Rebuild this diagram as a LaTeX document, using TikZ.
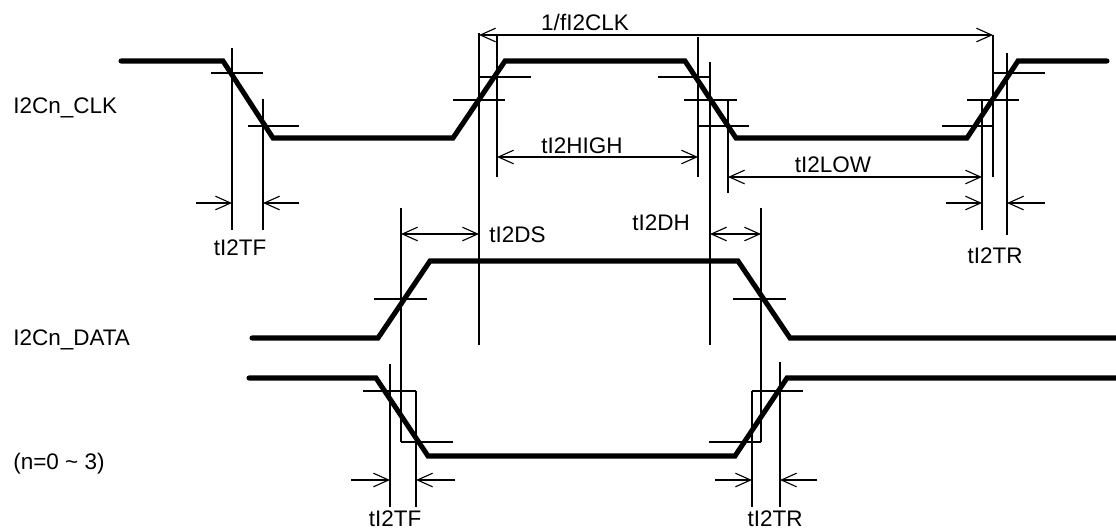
\documentclass[tikz,border=0pt]{standalone}
\usepackage{fontspec}
\setmainfont{Liberation Sans}
\usetikzlibrary{arrows.meta}

\begin{document}
\begin{tikzpicture}[x=0.025cm, y=-0.025cm, >={Straight Barb[length=0.38cm, width=0.34cm]},
  wave/.style={line width=3.6pt, line cap=round, line join=miter},
  guide/.style={line width=0.8pt},
  dim/.style={line width=0.8pt},
  lbl/.style={font=\fontsize{16}{19}\selectfont, inner sep=0pt, anchor=base}]

\useasboundingbox (0,0) rectangle (1116,529);

% signal names
\node[lbl, anchor=base west] (nclk) at (13,113) {I2Cn\_CLK};
\node[lbl, anchor=base west] (ndata) at (13,345) {I2Cn\_DATA};
\node[lbl, anchor=base west] (nrange) at (13,469) {(n=0 \textasciitilde{} 3)};

% waveforms
\draw[wave] (121,61) -- (223,61) -- (273,138) -- (453,138) -- (505,61) -- (685,61) -- (736,138) -- (967,138) -- (1018,61) -- (1107,61);
\draw[wave] (252,338) -- (378,338) -- (430,261) -- (738,261) -- (790,338) -- (1122,338);
\draw[wave] (249,378) -- (376,378) -- (428,456) -- (735,456) -- (787,378) -- (1122,378);

% threshold ticks on clock
\draw[guide] (211,73) -- (263,73);
\draw[guide] (248,126) -- (299,126);
\draw[guide] (453,100) -- (505,100);
\draw[guide] (479,77) -- (531,77);
\draw[guide] (658,77) -- (710,77);
\draw[guide] (684,100) -- (737,100);
\draw[guide] (698,126) -- (749,126);
\draw[guide] (942,126) -- (993,126);
\draw[guide] (967,100) -- (1019,100);
\draw[guide] (993,73) -- (1045,73);

% clock guide lines
\draw[guide] (232,48) -- (232,230);
\draw[guide] (263,99) -- (263,230);
\draw[guide] (479,33) -- (479,345);
\draw[guide] (497,35) -- (497,177);
\draw[guide] (698,37) -- (698,177);
\draw[guide] (710,62) -- (710,345);
\draw[guide] (728,100) -- (728,193);
\draw[guide] (982,100) -- (982,230);
\draw[guide] (993,35) -- (993,177);
\draw[guide] (1007,53) -- (1007,235);

% data guide lines and ticks
\draw[guide] (401,208) -- (401,442);
\draw[guide] (374,299) -- (427,299);
\draw[guide] (761,208) -- (761,442);
\draw[guide] (733,299) -- (786,299);
\draw[guide] (390,364) -- (390,507);
\draw[guide] (416,391) -- (416,507);
\draw[guide] (363,391) -- (416,391);
\draw[guide] (401,442) -- (453,442);
\draw[guide] (752,391) -- (752,507);
\draw[guide] (780,362) -- (780,507);
\draw[guide] (752,391) -- (803,391);
\draw[guide] (709,442) -- (761,442);

% dimensions
\draw[dim, <->] (479,35) -- (993,35);
\node[lbl] (tclk) at (585,30) {1/fI2CLK};

\draw[dim, <->] (497,157) -- (698,157);
\node[lbl] (thigh) at (582,153) {tI2HIGH};

\draw[dim, <->] (728,177) -- (982,177);
\node[lbl] (tlow) at (833,172) {tI2LOW};

\draw[dim, ->] (196,203) -- (232,203);
\draw[dim, ->] (299,203) -- (263,203);
\node[lbl] (tfclk) at (240,255) {tI2TF};

\draw[dim, ->] (946,203) -- (982,203);
\draw[dim, ->] (1045,203) -- (1007,203);
\node[lbl] (trclk) at (995,263) {tI2TR};

\draw[dim, <->] (401,234) -- (479,234);
\node[lbl, anchor=base west] (tds) at (489,242) {tI2DS};

\draw[dim, <->] (710,234) -- (761,234);
\node[lbl] (tdh) at (661,230) {tI2DH};

\draw[dim, ->] (351,480) -- (390,480);
\draw[dim, ->] (455,480) -- (416,480);
\node[lbl] (tfdata) at (395,526) {tI2TF};

\draw[dim, ->] (715,480) -- (752,480);
\draw[dim, ->] (817,480) -- (780,480);
\node[lbl] (trdata) at (775,526) {tI2TR};

\end{tikzpicture}
\end{document}
